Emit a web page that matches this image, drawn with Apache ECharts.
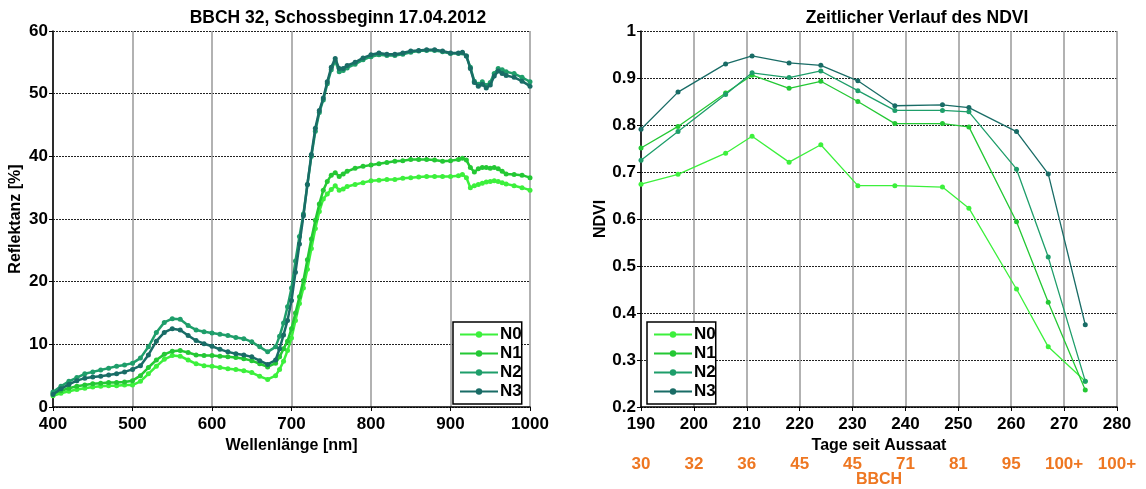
<!DOCTYPE html>
<html>
<head>
<meta charset="utf-8">
<script src="https://cdn.jsdelivr.net/npm/echarts@6/dist/echarts.min.js"></script>
<style>
  html, body { margin: 0; padding: 0; background: #fff; }
  #chart { width: 1146px; height: 489px; }
</style>
</head>
<body>
<div id="chart"></div>
<script>
// Spectral reflectance (%) per nitrogen level
const wavelengths = [400,410,420,430,440,450,460,470,480,490,500,510,520,530,540,550,560,570,580,590,600,610,620,630,640,650,660,670,
  680,685,690,695,700,705,710,715,720,725,730,735,740,745,750,755,760,765,770,
  780,790,800,810,820,830,840,850,860,870,880,890,900,910,
  915,920,925,930,935,940,945,950,955,960,965,970,
  980,990,1000];

const reflN0 = [1.8,2.2,2.5,2.8,3.0,3.2,3.3,3.4,3.4,3.5,3.5,4.1,5.3,6.5,7.6,8.2,8.1,7.5,6.9,6.6,6.5,6.3,6.1,6.0,5.8,5.5,4.9,4.4,
  5.0,6.0,7.3,9.0,11.0,13.8,16.5,19.0,22.0,25.3,28.5,31.2,33.2,34.0,34.7,35.3,34.6,34.8,35.2,
  35.5,35.8,36.1,36.2,36.3,36.3,36.5,36.6,36.7,36.8,36.8,36.8,36.8,36.9,
  37.1,36.6,35.0,35.3,35.5,35.7,35.9,36.0,36.1,36.0,35.8,35.6,
  35.3,35.0,34.6];

const reflN1 = [2.2,2.6,3.0,3.3,3.5,3.7,3.8,3.9,3.9,4.0,4.2,5.0,6.3,7.5,8.4,8.9,9.0,8.7,8.3,8.2,8.2,8.1,8.0,7.9,7.7,7.4,6.9,6.4,
  7.0,8.0,9.3,10.5,12.5,15.0,17.6,20.2,23.5,26.8,29.8,32.4,34.6,36.0,37.0,37.4,36.8,37.2,37.6,
  38.1,38.4,38.6,38.8,39.0,39.2,39.3,39.5,39.5,39.5,39.4,39.2,39.3,39.5,
  39.7,39.4,38.2,37.5,38.0,38.2,38.2,38.1,38.2,38.0,37.6,37.2,
  37.1,37.0,36.6];

const reflN2 = [2.4,3.3,4.1,4.7,5.3,5.6,5.9,6.2,6.5,6.7,7.0,7.8,9.6,11.9,13.5,14.1,14.0,13.0,12.3,12.0,11.8,11.6,11.4,11.1,10.9,10.4,9.6,8.8,
  9.6,11.3,13.4,16.0,19.0,23.3,27.2,30.8,35.5,40.0,44.0,47.0,49.0,51.6,53.8,55.2,53.5,53.7,54.1,
  54.7,55.4,55.9,56.2,56.1,56.1,56.3,56.6,56.8,56.9,56.9,56.7,56.4,56.4,
  56.5,56.0,54.2,52.0,51.5,51.9,51.3,51.8,53.2,54.0,53.8,53.5,
  53.2,52.6,51.9];

const reflN3 = [2.0,2.9,3.6,4.2,4.6,4.8,4.9,5.1,5.3,5.6,6.0,6.6,8.3,10.5,11.9,12.5,12.3,11.4,10.6,10.1,9.7,9.2,8.8,8.5,8.3,8.0,7.4,6.8,
  7.5,9.3,11.5,13.8,17.0,21.5,26.0,30.5,35.5,40.3,44.5,47.3,49.3,51.9,54.2,55.6,54.0,54.0,54.5,
  55.0,55.7,56.2,56.5,56.3,56.3,56.5,56.8,56.9,57.0,57.0,56.8,56.5,56.5,
  56.6,56.0,54.0,51.8,51.2,51.5,50.9,51.4,52.8,53.6,53.2,52.9,
  52.6,52.0,51.2];

// NDVI over time (days since sowing)
const days = [190,197,206,211,218,224,231,238,247,252,261,267,274];
const ndviN0 = [0.674,0.695,0.740,0.776,0.721,0.758,0.671,0.671,0.668,0.623,0.451,0.328,0.255];
const ndviN1 = [0.751,0.797,0.868,0.906,0.878,0.893,0.850,0.803,0.803,0.796,0.594,0.423,0.236];
const ndviN2 = [0.725,0.786,0.865,0.911,0.901,0.915,0.873,0.831,0.831,0.828,0.706,0.519,0.255];
const ndviN3 = [0.791,0.870,0.930,0.947,0.932,0.927,0.894,0.841,0.843,0.837,0.786,0.696,0.375];

// Growth stage shown under each day tick
const dayTicks = [190,200,210,220,230,240,250,260,270,280];
const bbchLabels = ['30','32','36','45','45','71','81','95','100+','100+'];

const seriesNames = ['N0','N1','N2','N3'];
const colors = ['#3cf03c','#24c834','#1e9e6a','#196c66'];

const FONT = 'Liberation Sans, Arial, sans-serif';
const reflSets = [reflN0, reflN1, reflN2, reflN3];
const ndviSets = [ndviN0, ndviN1, ndviN2, ndviN3];

const pairs = (xs, ys) => xs.map((x, i) => [x, ys[i]]);

const labelStyle = { color: '#000', fontFamily: FONT, fontWeight: 'bold', fontSize: 17 };
const nameStyle = { color: '#000', fontFamily: FONT, fontWeight: 'bold', fontSize: 16 };
const hSplit = { show: true, lineStyle: { color: '#222', type: [2, 1], width: 1 } };
const vSplit = { show: true, lineStyle: { color: '#999', type: 'solid', width: 1.5 } };
const axisLine = { show: true, onZero: false, lineStyle: { color: '#000', width: 1.5 } };
const axisTick = { show: true, inside: false, length: 4, lineStyle: { color: '#000' } };
const plainNumber = v => String(Math.round(v * 10) / 10);

const series = [];
seriesNames.forEach((name, k) => {
  series.push({
    name, type: 'line', xAxisIndex: 0, yAxisIndex: 0,
    data: pairs(wavelengths, reflSets[k]),
    symbol: 'circle', symbolSize: 5, showSymbol: true,
    lineStyle: { width: 2.5, color: colors[k] },
    itemStyle: { color: colors[k] },
    animation: false, z: 2 + k
  });
});
seriesNames.forEach((name, k) => {
  series.push({
    name, type: 'line', xAxisIndex: 1, yAxisIndex: 1,
    data: pairs(days, ndviSets[k]),
    symbol: 'circle', symbolSize: 5, showSymbol: true,
    lineStyle: { width: 1.3, color: colors[k] },
    itemStyle: { color: colors[k] },
    animation: false, z: 2 + k
  });
});

const legendBase = {
  orient: 'vertical', data: seriesNames,
  itemWidth: 38, itemHeight: 8, itemGap: 2,
  backgroundColor: '#fff', borderColor: '#000', borderWidth: 1.5,
  padding: [4, 0, 4, 6], selectedMode: false,
  textStyle: { color: '#000', fontFamily: FONT, fontWeight: 'bold', fontSize: 17, padding: [0, 0, 0, -3] }
};

const titleStyle = { fontFamily: FONT, fontWeight: 'bold', fontSize: 17.5, color: '#000' };

const option = {
  backgroundColor: '#fff',
  animation: false,
  title: [
    { text: 'BBCH 32, Schossbeginn 17.04.2012', left: 333, top: 4, textAlign: 'center', textStyle: titleStyle },
    { text: 'Zeitlicher Verlauf des NDVI', left: 912, top: 4, textAlign: 'center', textStyle: titleStyle }
  ],
  legend: [
    Object.assign({}, legendBase, { left: 453, top: 322 }),
    Object.assign({}, legendBase, { left: 647, top: 322 })
  ],
  grid: [
    { left: 53, top: 31, width: 477, height: 376, containLabel: false, outerBoundsMode: 'none' },
    { left: 641, top: 31, width: 476, height: 376, containLabel: false, outerBoundsMode: 'none' }
  ],
  xAxis: [
    { type: 'value', gridIndex: 0, min: 400, max: 1000, interval: 100,
      name: 'Wellenlänge [nm]', nameLocation: 'middle', nameGap: 24, nameTextStyle: nameStyle,
      axisLine, axisTick,
      axisLabel: Object.assign({ margin: 9, formatter: plainNumber }, labelStyle), splitLine: vSplit },
    { type: 'value', gridIndex: 1, min: 190, max: 280, interval: 10,
      name: 'Tage seit Aussaat', nameLocation: 'middle', nameGap: 24, nameTextStyle: nameStyle,
      axisLine, axisTick,
      axisLabel: Object.assign({ margin: 9, formatter: plainNumber }, labelStyle), splitLine: vSplit },
    { type: 'value', gridIndex: 1, min: 190, max: 280, interval: 10, position: 'bottom', offset: 41,
      name: 'BBCH', nameLocation: 'middle', nameGap: 24, nameMoveOverlap: false,
      nameTextStyle: Object.assign({}, nameStyle, { color: '#ee7722' }),
      axisLine: { show: false }, axisTick: { show: false }, splitLine: { show: false },
      axisLabel: Object.assign({}, labelStyle, { color: '#ee7722', margin: 8,
        formatter: v => bbchLabels[dayTicks.indexOf(Math.round(v))] || '' }) }
  ],
  yAxis: [
    { type: 'value', gridIndex: 0, min: 0, max: 60, interval: 10,
      name: 'Reflektanz [%]', nameLocation: 'middle', nameGap: 29, nameTextStyle: nameStyle,
      axisLine, axisTick, axisLabel: Object.assign({ margin: 5 }, labelStyle), splitLine: hSplit },
    { type: 'value', gridIndex: 1, min: 0.2, max: 1, interval: 0.1,
      name: 'NDVI', nameLocation: 'middle', nameGap: 31, nameTextStyle: nameStyle,
      axisLine, axisTick,
      axisLabel: Object.assign({ margin: 5, formatter: plainNumber }, labelStyle),
      splitLine: hSplit }
  ],
  series
};

const chart = echarts.init(document.getElementById('chart'), null, { renderer: 'canvas' });
chart.setOption(option);
</script>
</body>
</html>
